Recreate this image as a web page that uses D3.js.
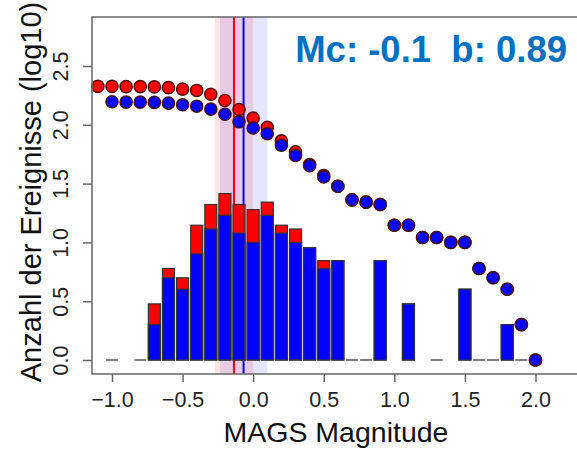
<!DOCTYPE html>
<html><head><meta charset="utf-8">
<script src="https://cdn.jsdelivr.net/npm/d3@7"></script>
<style>html,body{margin:0;padding:0;background:#fff;overflow:hidden}</style>
</head><body>
<svg id="c" width="577" height="450"></svg>
<script>
// ---- data ----
const binMags = [-1.0,-0.9,-0.8,-0.7,-0.6,-0.5,-0.4,-0.3,-0.2,-0.1,0.0,0.1,0.2,0.3,0.4,0.5,0.6,0.7,0.8,0.9,1.0,1.1,1.2,1.3,1.4,1.5,1.6,1.7,1.8,1.9,2.0];
const redCounts  = [1,0,1,3,6,5,14,21,26,21,19,22,14,13,9,7,7,1,1,7,0,3,0,1,0,4,1,1,2,1,1];
const blueCounts = [1,0,1,2,5,4,8,13,17,12,10,17,12,10,9,6,7,1,1,7,0,3,0,1,0,4,1,1,2,1,1];
const redCumMags = [-1.1,-1.0,-0.9,-0.8,-0.7,-0.6,-0.5,-0.4,-0.3,-0.2,-0.1,0.0,0.1,0.2,0.3,0.4,0.5,0.6,0.7,0.8,0.9,1.0,1.1,1.2,1.3,1.4,1.5,1.6,1.7,1.8,1.9,2.0];
const redCum = [212,212,211,211,210,207,201,196,182,161,135,114,95,73,59,46,37,30,23,22,21,14,14,11,11,10,10,6,5,4,2,1];
const blueCumMags = [-1.0,-0.9,-0.8,-0.7,-0.6,-0.5,-0.4,-0.3,-0.2,-0.1,0.0,0.1,0.2,0.3,0.4,0.5,0.6,0.7,0.8,0.9,1.0,1.1,1.2,1.3,1.4,1.5,1.6,1.7,1.8,1.9,2.0];
const blueCum = [157,156,156,155,153,148,144,136,123,106,94,84,67,55,45,36,30,23,22,21,14,14,11,11,10,10,6,5,4,2,1];
const mcRed = -0.136, mcRedLo = -0.27, mcRedHi = 0.0;
const mcBlue = -0.068, mcBlueLo = -0.235, mcBlueHi = 0.10;
const xTicks = [-1.0,-0.5,0.0,0.5,1.0,1.5,2.0];
const yTicks = [0.0,0.5,1.0,1.5,2.0,2.5];
const label = "Mc: -0.1  b: 0.89";
const xTitle = "MAGS Magnitude";
const yTitle = "Anzahl der Ereignisse (log10)";

// ---- layout ----
const svg = d3.select("#c");
const font = "'Liberation Sans', Arial, sans-serif";
const x = d3.scaleLinear().domain([-1, 2]).range([112, 535.5]);
const y = d3.scaleLinear().domain([0, 2.5]).range([360, 66]);
const box = {l: 92, t: 17, b: 374, r: 620};
const hw = 0.0425;

// bands
svg.append("rect").attr("x", x(mcBlueLo)).attr("y", box.t).attr("width", x(mcBlueHi)-x(mcBlueLo)).attr("height", box.b-box.t)
  .attr("fill", "rgba(0,0,255,0.1)");
svg.append("rect").attr("x", x(mcRedLo)).attr("y", box.t).attr("width", x(mcRedHi)-x(mcRedLo)).attr("height", box.b-box.t)
  .attr("fill", "rgba(255,0,0,0.11)");
// lines
svg.append("line").attr("x1", x(mcRed)).attr("x2", x(mcRed)).attr("y1", box.t).attr("y2", box.b).attr("stroke", "#ff0000").attr("stroke-width", 2);
svg.append("line").attr("x1", x(mcBlue)).attr("x2", x(mcBlue)).attr("y1", box.t).attr("y2", box.b).attr("stroke", "#0000ff").attr("stroke-width", 2);

// bars
function bars(counts, color) {
  const d = binMags.map((m, i) => ({m, c: counts[i]})).filter(e => e.c > 1);
  svg.append("g").selectAll("rect").data(d).join("rect")
    .attr("x", e => x(e.m - hw)).attr("width", e => x(e.m + hw) - x(e.m - hw))
    .attr("y", e => y(Math.log10(e.c))).attr("height", e => y(0) - y(Math.log10(e.c)))
    .attr("fill", color).attr("stroke", "#333").attr("stroke-width", 1.2);
}
bars(redCounts, "#ff0000");
bars(blueCounts, "#0000ff");
// zero-height bins (count 1)
const ones = binMags.map((m, i) => ({m, c: blueCounts[i]})).filter(e => e.c === 1);
svg.append("g").selectAll("line").data(ones).join("line")
  .attr("x1", e => x(e.m - hw)).attr("x2", e => x(e.m + hw))
  .attr("y1", y(0)).attr("y2", y(0)).attr("stroke", "#555").attr("stroke-width", 1.5);

// points
function pts(mags, cum, color) {
  svg.append("g").selectAll("circle").data(mags.map((m, i) => ({m, v: Math.log10(cum[i])}))).join("circle")
    .attr("cx", e => x(e.m)).attr("cy", e => y(e.v)).attr("r", 6.1)
    .attr("fill", color).attr("stroke", "#4a0c0c").attr("stroke-width", 1.4);
}
pts(redCumMags, redCum, "#ff0000");
pts(blueCumMags, blueCum, "#0000ff");

// box
svg.append("rect").attr("x", box.l).attr("y", box.t).attr("width", box.r-box.l).attr("height", box.b-box.t)
  .attr("fill", "none").attr("stroke", "#666").attr("stroke-width", 1.5);

// x axis
const xa = svg.append("g").attr("transform", `translate(0,${box.b})`)
  .call(d3.axisBottom(x).tickValues(xTicks).tickFormat(d3.format(".1f")).tickSize(8).tickSizeOuter(0));
xa.select(".domain").remove();
xa.selectAll(".tick line").attr("stroke", "#666").attr("stroke-width", 1.5);
xa.selectAll(".tick text").attr("font-family", font).attr("font-size", 21.5).attr("fill", "#222")
  .attr("y", 0).attr("dy", null).attr("transform", "translate(0,32.5)");

// y axis
const ya = svg.append("g").attr("transform", `translate(${box.l},0)`)
  .call(d3.axisLeft(y).tickValues(yTicks).tickFormat(d3.format(".1f")).tickSize(9).tickSizeOuter(0));
ya.select(".domain").remove();
ya.selectAll(".tick line").attr("stroke", "#666").attr("stroke-width", 1.5);
ya.selectAll(".tick text").attr("font-family", font).attr("font-size", 21.5).attr("fill", "#222")
  .attr("x", 0).attr("dy", null).attr("text-anchor", "middle")
  .attr("transform", "translate(-24,0) rotate(-90)");

// titles
svg.append("text").attr("x", 336).attr("y", 442).attr("text-anchor", "middle")
  .attr("font-family", font).attr("font-size", 28.5).attr("fill", "#111").text(xTitle);
svg.append("text").attr("transform", "translate(41,192) rotate(-90)").attr("text-anchor", "middle")
  .attr("font-family", font).attr("font-size", 29).attr("fill", "#111").text(yTitle);
svg.append("text").attr("x", 567).attr("y", 62).attr("text-anchor", "end").style("white-space", "pre")
  .attr("font-family", font).attr("font-weight", "bold").attr("font-size", 36.5).attr("fill", "#0070c0").text(label);
</script>
</body></html>
